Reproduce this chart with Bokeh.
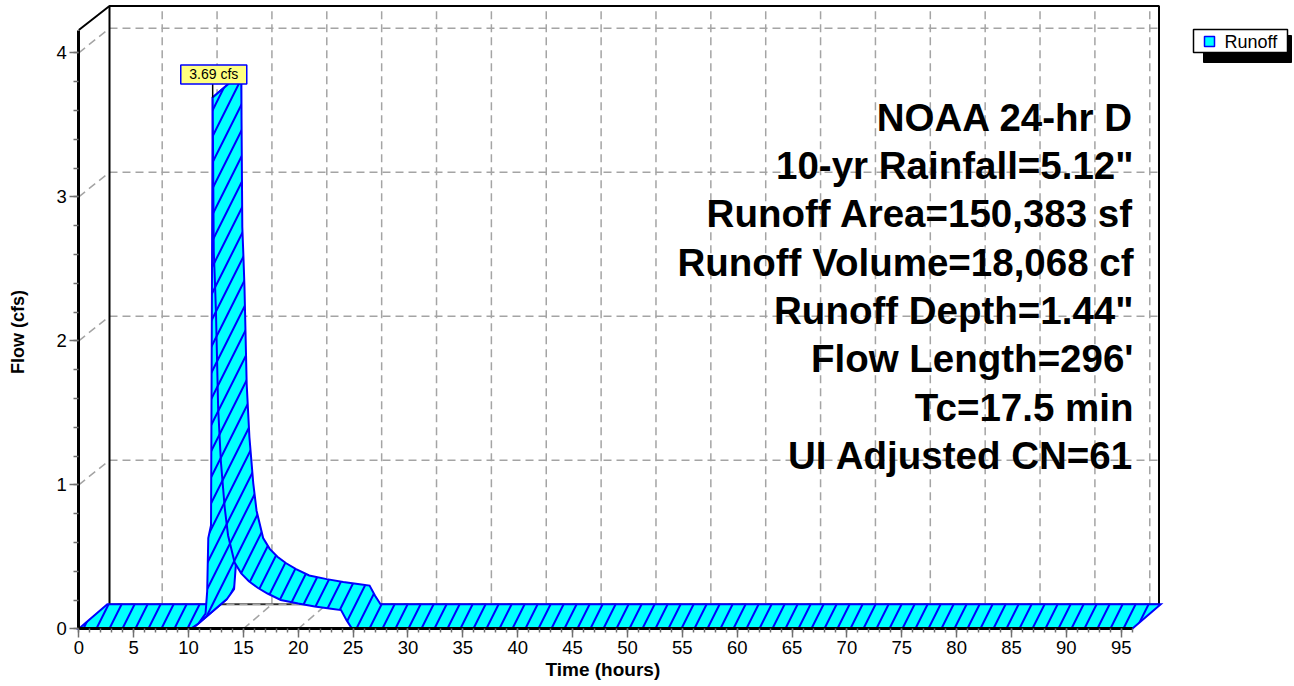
import numpy as np
from bokeh.plotting import figure
from bokeh.models import FixedTicker, Range1d, LinearAxis
from bokeh.core.properties import value
from bokeh.embed import file_html
from bokeh.resources import INLINE

# ---------------- data ----------------
time_hr = [0.0, 10.2, 10.9, 11.55, 11.7, 11.8, 12.05, 12.2, 12.3, 12.4, 12.5, 12.7,
           12.95, 13.3, 13.6, 14.2, 14.8, 15.5, 16.3, 17.2, 18.4, 20.0, 21.5, 23.0,
           23.9, 24.4, 24.9, 96.0]
flow_cfs = [0.0, 0.0, 0.037, 0.106, 0.26, 0.63, 0.72, 3.69, 2.62, 2.42, 2.2, 1.53,
            1.16, 0.84, 0.65, 0.46, 0.385, 0.33, 0.285, 0.245, 0.2, 0.175, 0.155, 0.14,
            0.13, 0.06, 0.0, 0.0]
x_ticks = list(range(0, 96, 5))
x_minor_ticks = list(range(0, 97))
y_ticks = [0, 1, 2, 3, 4]
y_minor_ticks = [round(0.2 * i, 1) for i in range(21)]
info_lines = ["NOAA 24-hr D", "10-yr Rainfall=5.12\"", "Runoff Area=150,383 sf",
              "Runoff Volume=18,068 cf", "Runoff Depth=1.44\"", "Flow Length=296'",
              "Tc=17.5 min", "UI Adjusted CN=61"]
series_name = "Runoff"
x_label = "Time  (hours)"
y_label = "Flow  (cfs)"

# ---------------- layout ----------------
W, H = 1294, 686
PX_X = 10.973          # px per hour
PX_Y = 144.0           # px per cfs
ORIGIN_X, ORIGIN_Y = 78.3, 628.3   # canvas position of (0, 0)
x_start = -ORIGIN_X / PX_X
x_end = x_start + W / PX_X
y_end = ORIGIN_Y / PX_Y
y_start = y_end - H / PX_Y
FONT = value("Liberation Sans")


def X(px):  # canvas px -> data x
    return x_start + px / PX_X


def Y(py):  # canvas px -> data y
    return y_end - py / PX_Y


DX, DY = 2.6, 0.17              # 3-D depth offset (hours, cfs)
WALL_LEFT, WALL_RIGHT = X(109), X(1158.5)
WALL_TOP = Y(5.5)
FRONT_TOP = Y(29.5)
T_END = time_hr[-1]

p = figure(width=W, height=H, output_backend="svg", toolbar_location=None,
           x_range=Range1d(x_start, x_end), y_range=Range1d(y_start, y_end),
           x_axis_location=None, y_axis_location=None,
           min_border_left=0, min_border_right=0, min_border_top=0, min_border_bottom=0)
p.grid.visible = False
p.outline_line_color = None
p.background_fill_color = "white"
p.border_fill_color = "white"

GRID = dict(line_color="#A4A4A4", line_width=1.5, line_dash="8 5")

# back wall grid
p.segment(x0=[WALL_LEFT] * 4, x1=[WALL_RIGHT] * 4,
          y0=[k + DY for k in y_ticks[1:]], y1=[k + DY for k in y_ticks[1:]], **GRID)
p.segment(x0=[t + DX for t in x_ticks[1:]], x1=[t + DX for t in x_ticks[1:]],
          y0=[DY] * (len(x_ticks) - 1), y1=[WALL_TOP] * (len(x_ticks) - 1), **GRID)
# left wall diagonals
p.segment(x0=[0] * 4, x1=[WALL_LEFT] * 4, y0=y_ticks[1:],
          y1=[k + DY for k in y_ticks[1:]], **GRID)
# floor diagonals
p.segment(x0=x_ticks[1:], x1=[t + DX for t in x_ticks[1:]],
          y0=[0] * (len(x_ticks) - 1), y1=[DY] * (len(x_ticks) - 1), **GRID)

# wall frame
p.line(x=[WALL_LEFT, WALL_RIGHT], y=[DY, DY], line_color="#303030", line_width=2)
p.line(x=[WALL_LEFT, WALL_RIGHT], y=[DY, DY], **GRID)
p.line(x=[0, WALL_LEFT, WALL_RIGHT, WALL_RIGHT], y=[FRONT_TOP, WALL_TOP, WALL_TOP, DY],
       line_color="black", line_width=2)
p.line(x=[WALL_LEFT, WALL_LEFT], y=[DY, WALL_TOP], line_color="black", line_width=2)

# ---------------- 3-D ribbon of the hydrograph ----------------
t = np.array(time_hr)
q = np.array(flow_cfs)
cross = np.diff(t) * PX_X * DY * PX_Y - np.diff(q) * PX_Y * DX * PX_X
sgn = np.where(cross >= 0, 1, -1)
groups = []
start = 0
for i in range(1, len(sgn)):
    if sgn[i] != sgn[i - 1]:
        groups.append((start, i))
        start = i
groups.append((start, len(sgn)))
xs, ys = [], []
for a, b in groups:
    fx = list(t[a:b + 1])
    fy = list(q[a:b + 1])
    xs.append(fx + [v + DX for v in fx[::-1]])
    ys.append(fy + [v + DY for v in fy[::-1]])
p.patches(xs=xs, ys=ys, fill_color="#00FFFF", hatch_pattern="/", hatch_color="#0000FF",
          hatch_scale=26, hatch_weight=2, line_color="#0000FF", line_width=2,
          line_join="miter")

# ---------------- peak label ----------------
ip = int(np.argmax(q))
tp, qp = t[ip], q[ip]
p.segment(x0=[tp], x1=[tp], y0=[qp], y1=[qp + 13.5 / PX_Y], line_color="black", line_width=1.5)
p.rect(x=[tp + 0.1], y=[qp + 23 / PX_Y], width=66, height=19, width_units="screen",
       height_units="screen", fill_color="#FFFF80", line_color="#0000FF", line_width=1.5)
p.text(x=[tp + 0.1], y=[qp + 23 / PX_Y], text=[f"{qp:.2f} cfs"], text_align="center",
       text_baseline="middle", text_font=FONT, text_font_size="14px", text_color="black")

# ---------------- info text block ----------------
p.text(x=[X(1133)] * len(info_lines),
       y=[Y(116.7 + 48.33 * k) for k in range(len(info_lines))],
       text=info_lines, text_align="right", text_baseline="alphabetic",
       text_font=FONT, text_font_size="38.5px", text_font_style="bold", text_color="black")

# ---------------- legend (with shadow) ----------------
p.quad(left=[X(1203)], right=[X(1291)], top=[Y(35)], bottom=[Y(62)],
       fill_color="black", line_color="black")
p.quad(left=[X(1193)], right=[X(1287)], top=[Y(29)], bottom=[Y(52)],
       fill_color="white", line_color="black", line_width=1.5)
p.quad(left=[X(1204)], right=[X(1214)], top=[Y(36)], bottom=[Y(46)],
       fill_color="#00FFFF", line_color="#0000FF", line_width=1.5)
p.text(x=[X(1224)], y=[Y(41)], text=[series_name], text_align="left",
       text_baseline="middle", text_font=FONT, text_font_size="18px", text_color="black")

# ---------------- axes (front edges of the 3-D box) ----------------
TICK = "#707070"
xa = LinearAxis(fixed_location=0)
xa.ticker = FixedTicker(ticks=x_ticks, minor_ticks=x_minor_ticks)
xa.bounds = (0, T_END)
xa.axis_line_width = 3
xa.axis_line_color = "black"
xa.major_tick_line_color = TICK
xa.major_tick_line_width = 1.5
xa.major_tick_out = 9
xa.major_tick_in = 0
xa.minor_tick_line_color = TICK
xa.minor_tick_line_width = 1.5
xa.minor_tick_out = 4
xa.minor_tick_in = 0
xa.major_label_text_font = "Liberation Sans"
xa.major_label_text_font_size = "18.5px"
xa.major_label_text_color = "black"
xa.major_label_standoff = 3
xa.axis_label = x_label
xa.axis_label_text_font = "Liberation Sans"
xa.axis_label_text_font_size = "19px"
xa.axis_label_text_font_style = "bold"
xa.axis_label_text_color = "black"
xa.axis_label_standoff = 2
p.add_layout(xa, "below")

ya = LinearAxis(fixed_location=0)
ya.ticker = FixedTicker(ticks=y_ticks, minor_ticks=y_minor_ticks)
ya.bounds = (0, FRONT_TOP)
ya.axis_line_width = 3
ya.axis_line_color = "black"
ya.major_tick_line_color = TICK
ya.major_tick_line_width = 1.5
ya.major_tick_out = 9
ya.major_tick_in = 0
ya.minor_tick_line_color = TICK
ya.minor_tick_line_width = 1.5
ya.minor_tick_out = 5
ya.minor_tick_in = 0
ya.major_label_text_font = "Liberation Sans"
ya.major_label_text_font_size = "18.5px"
ya.major_label_text_color = "black"
ya.major_label_standoff = 3
ya.axis_label = y_label
ya.axis_label_text_font = "Liberation Sans"
ya.axis_label_text_font_size = "18px"
ya.axis_label_text_font_style = "bold"
ya.axis_label_text_color = "black"
ya.axis_label_standoff = 25
p.add_layout(ya, "left")

open("out.html", "w").write(file_html(p, INLINE))
